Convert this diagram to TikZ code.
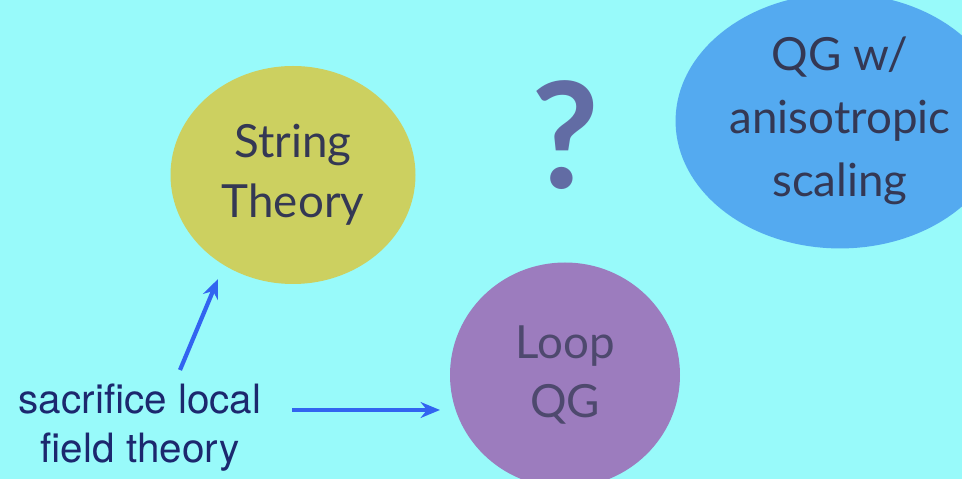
\documentclass[tikz,border=0pt]{standalone}
\usepackage{fontspec}
\newfontfamily\gillfont{Lato}
\newfontfamily\helvfont{TeX Gyre Heros}
\usetikzlibrary{shapes.geometric,arrows.meta}
\definecolor{slidebg}{RGB}{152,250,250}
\definecolor{stringfill}{RGB}{204,208,96}
\definecolor{loopfill}{RGB}{156,124,190}
\definecolor{aniso}{RGB}{84,170,240}
\definecolor{bubbletext}{RGB}{52,56,84}
\definecolor{sidetext}{RGB}{28,40,110}
\definecolor{arrowblue}{RGB}{50,100,240}
\definecolor{qmark}{RGB}{98,108,164}
\begin{document}
\begin{tikzpicture}[>={Stealth[length=11pt,width=9pt]}]
    \fill[slidebg](0,0) rectangle (19.24,9.58);
    \useasboundingbox (0,0) rectangle (19.24,9.58);
    \tikzset{bubble/.style={ellipse,align=center,text=bubbletext,font=\gillfont\fontsize{26}{34}\selectfont}}
    \node[bubble,fill=stringfill,minimum width=4.9cm,minimum height=4.36cm](string) at (5.86,6.08){String\\Theory};
    \node[bubble,fill=loopfill,minimum width=4.6cm,minimum height=4.5cm,text=bubbletext!75!loopfill](loop) at (11.3,2.08){Loop\\QG};
    \node[bubble,fill=aniso,minimum width=5.1cm,minimum height=4.5cm,font=\gillfont\fontsize{26}{36}\selectfont](qg) at (16.8,7.16){QG w/\\anisotropic\\scaling};
    \node[text=qmark,font=\gillfont\bfseries\fontsize{84}{84}\selectfont](ask) at (11.3,6.88){?};
    \node[align=center,text=sidetext,font=\helvfont\fontsize{23}{28}\selectfont](sacrifice) at (2.8,1.02){sacrifice local\\field theory};
    \coordinate (upfrom) at (3.6,2.18);
    \coordinate (upto) at (4.36,4.0);
    \coordinate (rightfrom) at (5.84,1.38);
    \coordinate (rightto) at (8.8,1.38);
    \draw[->,arrowblue,line width=2.4pt](upfrom)--(upto);
    \draw[->,arrowblue,line width=2.4pt](rightfrom)--(rightto);
\end{tikzpicture}
\end{document}
